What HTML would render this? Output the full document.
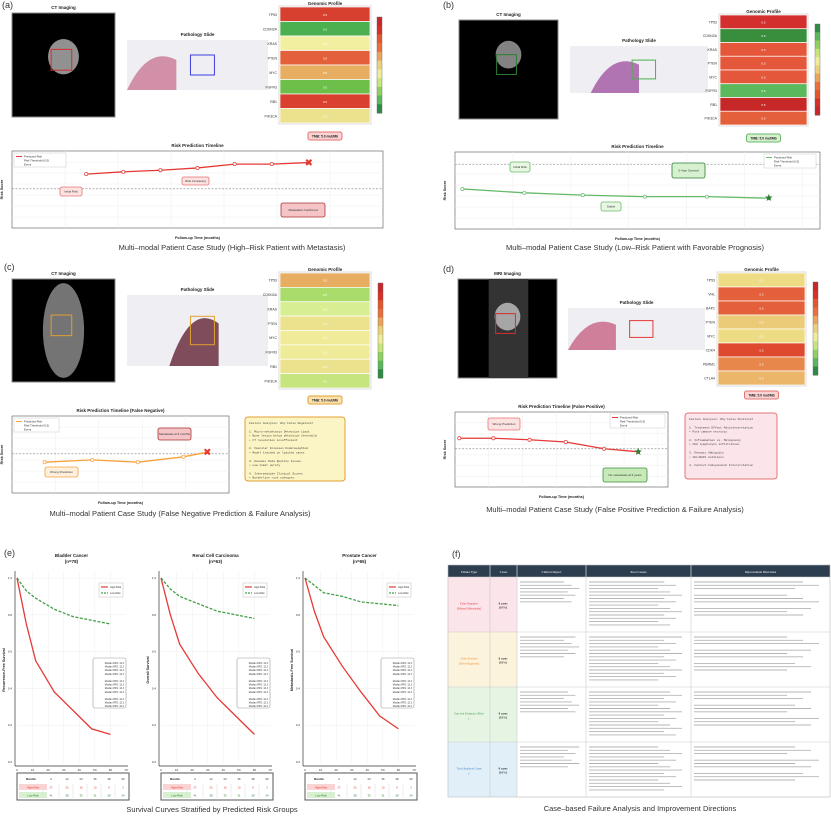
<!DOCTYPE html><html><head><meta charset="utf-8"><style>
body{margin:0;background:#fff;width:831px;height:816px;overflow:hidden}
svg{display:block;font-family:"Liberation Sans",sans-serif}
</style></head><body>
<svg id="s" width="831" height="816" viewBox="0 0 831 816" xmlns="http://www.w3.org/2000/svg"></svg>
<script>
const S=document.getElementById('s');let h='';
function R(x,y,w,hh,f,st,sw,extra){h+=`<rect x="${x}" y="${y}" width="${w}" height="${hh}" fill="${f}" ${st?`stroke="${st}" stroke-width="${sw||1}"`:''} ${extra||''}/>`}
function T(x,y,t,sz,c,anc,w,extra){h+=`<text x="${x}" y="${y}" font-size="${sz}" fill="${c||'#222'}" text-anchor="${anc||'start'}" ${w?'font-weight="bold"':''} ${extra||''}>${t}</text>`}
function P(pts,c,sw,dash,extra){h+=`<polyline points="${pts.map(p=>p.join(',')).join(' ')}" fill="none" stroke="${c}" stroke-width="${sw}" ${dash?`stroke-dasharray="${dash}"`:''} ${extra||''}/>`}
function L(x1,y1,x2,y2,c,sw,dash){h+=`<line x1="${x1}" y1="${y1}" x2="${x2}" y2="${y2}" stroke="${c}" stroke-width="${sw}" ${dash?`stroke-dasharray="${dash}"`:''}/>`}
const gradR=['#c62828','#d73027','#e4572e','#ea6f3c','#eba35c','#e9d27a','#eeeb9a','#c6e57a','#8fd060','#5cb85c','#2e8b45'];
function panel(o){
 T(o.lx,o.ly,o.lab,9,'#333');
 T(o.ct[0]+o.ct[2]/2,o.ct[1]-4,o.ctT,4.5,'#222','middle',1);
 R(o.ct[0],o.ct[1],o.ct[2],o.ct[3],'#000','#888',1);
 if(o.mri){R(o.ct[0]+o.ct[2]*0.31,o.ct[1],o.ct[2]*0.4,o.ct[3],'#333');}
 h+=`<ellipse cx="${o.ct[0]+o.ct[2]*0.5}" cy="${o.ct[1]+o.ct[3]*o.blobY}" rx="${o.ct[2]*o.blobW}" ry="${o.ct[3]*o.blobH}" fill="${o.blobC||'#999'}" opacity="0.85"/>`;
 R(o.ct[0]+o.ct[2]*0.38,o.ct[1]+o.ct[3]*0.35,o.ct[2]*0.2,o.ct[3]*0.2,'none',o.ac,1);
 T(o.pa[0]+o.pa[2]/2,o.pa[1]-4,'Pathology Slide',4.5,'#222','middle',1);
 R(o.pa[0],o.pa[1],o.pa[2],o.pa[3],'#efeff3');
 h+=`<path d="M${o.pa[0]+o.pa[2]*o.tx},${o.pa[1]+o.pa[3]} q${o.pa[2]*0.15},-${o.pa[3]*0.9} ${o.pa[2]*0.35},-${o.pa[3]*0.6} l0,${o.pa[3]*0.6}z" fill="${o.tc}" opacity="0.75"/>`;
 R(o.pa[0]+o.pa[2]*0.45,o.pa[1]+o.pa[3]*0.3,o.pa[2]*0.17,o.pa[3]*0.4,'none',o.pac,1);
 const [hx,hy,hw,hh]=o.hm;T(hx+hw/2,hy-2,'Genomic Profile',4.5,'#222','middle',1);
 const rh=hh/o.hc.length;
 o.hc.forEach((c,i)=>{R(hx,hy+i*rh,hw,rh,c,'#fff',0.7);T(hx-3,hy+i*rh+rh/2+1.5,o.genes[i],3.5,'#333','end');T(hx+hw/2,hy+i*rh+rh/2+1.5,'0.5',3,'#fff','middle');});
 R(hx-1,hy-1,hw+2,hh+2,'none','#ddd',1);
 const cb=o.cb;for(let i=0;i<11;i++)R(cb[0],cb[1]+i*(cb[3]/11),5,cb[3]/11+0.5,o.flip?gradR[10-i]:gradR[i]);
 R(cb[0],cb[1],5,cb[3],'none','#666',0.4);
 R(hx+hw/2-17,o.tmbY-4,34,8,o.tmbF,o.tmbS,1,'rx="2"');T(hx+hw/2,o.tmbY+1.5,'TMB: 5.0 mut/Mb',3.3,'#222','middle',1);
 const [ax,ay,aw,ah]=o.ax;T(ax+aw/2,ay-4,o.tlT,4.5,'#222','middle',1);
 R(ax,ay,aw,ah,'#fff','#555',0.6);
 for(let i=1;i<7;i++)L(ax,ay+ah*i/7,ax+aw,ay+ah*i/7,'#eee',0.5);
 for(let i=1;i<o.nx;i++)L(ax+aw*i/o.nx,ay,ax+aw*i/o.nx,ay+ah,'#eee',0.5);
 L(ax,ay+ah*o.thr,ax+aw,ay+ah*o.thr,'#999',0.7,'2,1.5');
 T(ax+aw/2,ay+ah+11,'Follow-up Time (months)',3.8,'#222','middle',1);
 T(ax-9,ay+ah/2,'Risk Score',3.8,'#222','middle',1,`transform="rotate(-90 ${ax-9} ${ay+ah/2})"`);
 const pts=o.pts.map(p=>[ax+aw*p[0],ay+ah*p[1]]);P(pts,o.lc,1.3);
 pts.forEach(p=>h+=`<circle cx="${p[0]}" cy="${p[1]}" r="1.6" fill="#fff" stroke="${o.lc}" stroke-width="0.7"/>`);
 const e=pts[pts.length-1];
 if(o.star)T(e[0],e[1]+3,'★',10,'#2e7d32','middle');else T(e[0],e[1]+3.5,'✖',10,'#e53935','middle');
 R(o.leg[0],o.leg[1],o.leg[2],14,'#fff','#ccc',0.5);
 L(o.leg[0]+2,o.leg[1]+3.5,o.leg[0]+8,o.leg[1]+3.5,o.lc,1);T(o.leg[0]+10,o.leg[1]+4.5,'Predicted Risk',2.8,'#333');
 T(o.leg[0]+10,o.leg[1]+8.5,'Risk Threshold (0.5)',2.8,'#333');T(o.leg[0]+10,o.leg[1]+12.5,'Event',2.8,'#333');
 (o.notes||[]).forEach(n=>{R(n[0],n[1],n[2],n[3],n[4],n[5],0.8,'rx="2"');T(n[0]+n[2]/2,n[1]+n[3]/2+1,n[6],3,'#333','middle');});
 if(o.box){const b=o.box;R(b[0],b[1],b[2],b[3],b[4],b[5],1,'rx="3"');
  b[6].forEach((t,i)=>T(b[0]+4,b[1]+7+i*4.2,t,2.9,'#444','start',0,'font-family="Liberation Mono"'));}
 T(o.cap[0],o.cap[1],o.capT,7.5,'#333','middle');
}
const genes=['TP53','CDKN2A','KRAS','PTEN','MYC','FGFR3','RB1','PIK3CA'];
const fnLines=['Failure Analysis: Why False Negative?','','1. Micro-metastasis Detection Limit','  • Bone lesion below detection threshold','  • CT resolution insufficient','','2. Vascular Invasion Underweighted','  • Model trained on limited cases','','3. Genomic Data Quality Issues','  • Low tumor purity','','4. Intermediate Clinical Scores','  • Borderline risk category'];
panel({lab:'(a)',lx:2,ly:8,ct:[12,13,103,104],ctT:'CT Imaging',blobY:0.42,blobW:0.15,blobH:0.17,ac:'#d32f2f',blobC:'#aaa',
 pa:[127,40,141,50],tx:0,tc:'#c8708f',pac:'#3d3de0',hm:[280,7,90,116],genes,hc:['#d73f2e','#4caf50','#f2f0a0','#e4603a','#e7ad60','#6cc04a','#d9402f','#ece18c'],
 cb:[377,17,6,96],flip:false,tmbY:136,tmbF:'#fbd3d3',tmbS:'#e57373',ax:[12,151,371,77],tlT:'Risk Prediction Timeline',nx:7,thr:0.49,
 pts:[[0.2,0.3],[0.3,0.27],[0.4,0.25],[0.5,0.22],[0.6,0.17],[0.7,0.17],[0.8,0.15]],lc:'#e53935',leg:[14,153,52],
 notes:[[60,187,22,9,'#fde2e2','#e57373','Initial Risk'],[182,177,27,8,'#fde2e2','#e57373','Risk Increasing'],[281,203,44,14,'#f4c4c7','#a33','Metastasis Confirmed']],
 cap:[232,250],capT:'Multi–modal Patient Case Study (High–Risk Patient with Metastasis)'});
panel({lab:'(b)',lx:443,ly:8,ct:[459,20,99,99],ctT:'CT Imaging',blobY:0.35,blobW:0.13,blobH:0.14,ac:'#2e7d32',blobC:'#999',
 pa:[570,46,138,47],tx:0.15,tc:'#9c4b9c',pac:'#4caf50',hm:[720,15,87,110],genes:['TP53','CDKN2A','KRAS','PTEN','MYC','FGFR3','RB1','PIK3CA'],hc:['#d32f2f','#388e3c','#e4573a','#e4573a','#e4573a','#5cb85c','#c62828','#e4603a'],
 cb:[815,24,6,91],flip:true,tmbY:138,tmbF:'#d6f0d0',tmbS:'#66bb6a',ax:[455,152,365,77],tlT:'Risk Prediction Timeline',nx:6.3,thr:0.16,
 pts:[[0.02,0.48],[0.19,0.53],[0.35,0.56],[0.52,0.58],[0.69,0.58],[0.86,0.6]],lc:'#66bb6a',star:1,leg:[764,154,52],
 notes:[[510,162,20,10,'#e8f7e2','#66bb6a','Initial Risk'],[601,202,20,9,'#e8f7e2','#66bb6a','Stable'],[672,163,33,15,'#d6f0d0','#2e7d32','5-Year Survival']],
 cap:[635,250],capT:'Multi–modal Patient Case Study (Low–Risk Patient with Favorable Prognosis)'});
panel({lab:'(c)',lx:4,ly:270,ct:[12,279,103,103],ctT:'CT Imaging',blobY:0.5,blobW:0.2,blobH:0.46,ac:'#e0a030',blobC:'#888',
 pa:[127,295,141,71],tx:0.3,tc:'#5a1528',pac:'#e0a030',hm:[280,273,90,115],genes,hc:['#e7ad60','#a9dc6a','#d8ee92','#ece18c','#f0eb98','#f0eb98','#ece18c','#c7e57e'],
 cb:[378,283,6,95],flip:false,tmbY:400,tmbF:'#fbe3b0',tmbS:'#e0a030',ax:[12,416,217,77],tlT:'Risk Prediction Timeline (False Negative)',nx:5,thr:0.49,
 pts:[[0.15,0.6],[0.37,0.57],[0.58,0.6],[0.79,0.53],[0.9,0.47]],lc:'#f7a13a',leg:[14,418,45],
 notes:[[45,467,33,10,'#fef0dc','#f7a13a','Wrong Prediction'],[158,428,33,12,'#f4c4c7','#a33','Metastasis at 6 months']],
 box:[245,417,100,64,'#fbf4c4','#e0a030',fnLines],cap:[180,516],capT:'Multi–modal Patient Case Study (False Negative Prediction &amp; Failure Analysis)'});
panel({lab:'(d)',lx:443,ly:272,ct:[458,279,99,99],ctT:'MRI Imaging',mri:1,blobY:0.38,blobW:0.13,blobH:0.14,ac:'#d32f2f',blobC:'#bbb',
 pa:[568,308,137,42],tx:0,tc:'#c45a7c',pac:'#e53935',hm:[718,273,87,112],genes:['TP53','VHL','BAP1','PTEN','MYC','CDK4','PBRM1','CTLA4'],hc:['#eddc84','#e4603a','#e4603a','#eccb78','#eddc84','#dd4a30','#e8874c','#ebb66a'],
 cb:[813,282,6,93],flip:false,tmbY:395,tmbF:'#fbd3d3',tmbS:'#e57373',ax:[455,412,213,75],tlT:'Risk Prediction Timeline (False Positive)',nx:6.3,thr:0.49,
 pts:[[0.02,0.35],[0.18,0.35],[0.35,0.37],[0.52,0.4],[0.7,0.49],[0.86,0.53]],lc:'#e53935',star:1,leg:[610,414,55],
 notes:[[488,418,32,12,'#fde2e2','#e57373','Wrong Prediction'],[603,468,44,14,'#c8eab8','#388e3c','No metastasis at 5 years']],
 box:[685,413,92,66,'#fbe5ea','#e57373',['Failure Analysis: Why False Positive?','','1. Treatment Effect Misinterpretation','  • Post-immune necrosis','','2. Inflammation vs. Malignancy','  • CD8 lymphocyte infiltration','','3. Genomic Ambiguity','  • VHL/BAP1 mutations','','4. Context-Independent Interpretation']],
 cap:[615,512],capT:'Multi–modal Patient Case Study (False Positive Prediction &amp; Failure Analysis)'});
T(4,556,'(e)',9,'#333');
const km=[{x:17,t:'Bladder Cancer',n:'(n=78)',yl:'Recurrence-Free Survival',hi:[[0,1],[6,.75],[12,.55],[24,.38],[48,.18],[60,.15]],lo:[[0,1],[6,.93],[12,.89],[24,.83],[36,.79],[48,.77],[60,.75]]},
{x:161,t:'Renal Cell Carcinoma',n:'(n=63)',yl:'Overall Survival',hi:[[0,1],[6,.8],[12,.64],[24,.48],[36,.35],[48,.25],[60,.15]],lo:[[0,1],[6,.94],[12,.9],[24,.86],[36,.82],[48,.8],[60,.78]]},
{x:305,t:'Prostate Cancer',n:'(n=65)',yl:'Metastasis-Free Survival',hi:[[0,1],[6,.82],[12,.68],[24,.52],[36,.38],[48,.25],[60,.18]],lo:[[0,1],[12,.92],[24,.9],[36,.87],[48,.86],[60,.85]]}];
km.forEach(k=>{const x0=k.x,w=109,y0=578,hh=184;
 T(x0+w/2,557,k.t,4.5,'#222','middle',1);T(x0+w/2,563,k.n,4.5,'#222','middle',1);
 for(let i=1;i<7;i++)L(x0+w*i/7,y0-7,x0+w*i/7,y0+hh,'#eee',0.5);
 for(let i=0;i<5;i++)L(x0,y0+hh*i/5,x0+w,y0+hh*i/5,'#eee',0.5);
 L(x0-2,y0-7,x0-2,y0+hh+4,'#333',0.7);L(x0-2,y0+hh+4,x0+w+2,y0+hh+4,'#333',0.7);
 for(let i=0;i<6;i++)T(x0-5,y0+hh*i/5+1,(1-i*0.2).toFixed(1),3,'#333','end');
 for(let i=0;i<8;i++)T(x0+w*i/7,y0+hh+9,i*10,3,'#333','middle');
 T(x0+w/2,y0+hh+15,'Time (months)',3.8,'#222','middle',1);
 T(x0-12,y0+hh/2,k.yl,3.6,'#222','middle',1,`transform="rotate(-90 ${x0-12} ${y0+hh/2})"`);
 const m=p=>[x0+w*p[0]/70,y0+hh*(1-p[1])];
 P(k.lo.map(m),'#43a047',1.3,'3,1.5');P(k.hi.map(m),'#e53935',1.3);
 R(x0+82,y0+5,24,14,'#fff','#bbb',0.5);L(x0+84,y0+9,x0+91,y0+9,'#e53935',1.2);L(x0+84,y0+15,x0+91,y0+15,'#43a047',1.2,'2,1');
 T(x0+93,y0+10,'High Risk',2.6,'#333');T(x0+93,y0+16,'Low Risk',2.6,'#333');
 R(x0+76,y0+80,33,50,'#fff','#999',0.6,'rx="2"');
 for(let i=0;i<13;i++)if(i!=4&&i!=9)T(x0+107,y0+86+i*3.6,'Median RFS: 12.3',2.4,'#333','end');
 const ty=773,tx=x0+0;R(tx,ty,w+3,27,'#fff','#555',1);
 const cols=[8,28,44,58,72,86,100];T(tx+cols[0]+6,ty+7,'Months',2.8,'#222','middle',1);
 [0,12,24,36,48,60].forEach((v,i)=>T(tx+cols[i+1]+6,ty+7,v,2.8,'#333','middle'));
 R(tx+2,ty+11,28,6,'#fbd3d3');R(tx+2,ty+19,28,6,'#d6f0d0');
 T(tx+16,ty+15.5,'High Risk',2.8,'#e53935','middle');T(tx+16,ty+23.5,'Low Risk',2.8,'#2e7d32','middle');
 [27,20,16,10,6,3].forEach((v,i)=>T(tx+cols[i+1]+6,ty+15.5,v,2.8,'#e53935','middle'));
 [41,38,33,31,28,24].forEach((v,i)=>T(tx+cols[i+1]+6,ty+23.5,v,2.8,'#2e7d32','middle'));
 for(let i=1;i<7;i++){L(tx+cols[i]-2,ty+11,tx+cols[i]-2,ty+25,'#ddd',0.5)}
});
T(212,812,'Survival Curves Stratified by Predicted Risk Groups',7.5,'#333','middle');
T(452,557,'(f)',9,'#333');
const fx=[448,490,517,586,691,830],fy=565;
R(448,fy,382,12,'#2c3e50');
['Failure Type','Cases','Clinical Impact','Root Causes','Improvement Directions'].forEach((t,i)=>{T((fx[i]+fx[i+1])/2,fy+8,t,3.2,'#fff','middle',0,'font-family="Liberation Serif"');if(i)L(fx[i],fy,fx[i],fy+12,'#fff',0.6)});
const rows=[['#fbe4ea','False Negative (Missed Metastasis)','#e53935'],['#fbf3dc','False Positive (Over-diagnosis)','#f08c2a'],['#e6f4e3','Survival Estimate Offset','#43a047'],['#e1f0f8','Total Analysis Cases','#3b82c4']];
const rh=55;
rows.forEach((r,i)=>{const y=fy+12+i*rh;R(448,y,69,rh,r[0]);R(517,y,313,rh,'#fff');
 T(469,y+rh/2,r[1].split(' (')[0],3,r[2],'middle',0,'font-family="Liberation Serif"');T(469,y+rh/2+5,'('+(r[1].split(' (')[1]||''),3,r[2],'middle',0,'font-family="Liberation Serif"');
 T(503,y+rh/2,'8 cases',3,'#333','middle',1,'font-family="Liberation Serif"');T(503,y+rh/2+4,'(10%)',3,'#333','middle',1,'font-family="Liberation Serif"');
 L(448,y,830,y,'#ccc',0.6);
 for(let c=0;c<3;c++){const cx=fx[c+2]+3,cw=fx[c+3]-fx[c+2]-6,n=c==0?7:c==1?14:12;
  for(let j=0;j<n;j++){if(c==2&&j%4==3)continue;const lw=cw*(0.7+0.3*((j*7+i*3+c)%5)/5);L(cx,y+5+j*3.3,cx+lw,y+5+j*3.3,'#b5b5b5',0.9);}}
});
for(let i=1;i<5;i++)L(fx[i],fy+12,fx[i],fy+12+4*rh,'#ccc',0.6);
R(448,fy,382,12+4*rh,'none','#bbb',0.6);
T(640,811,'Case–based Failure Analysis and Improvement Directions',7.5,'#333','middle');
S.innerHTML=h;
</script></body></html>
